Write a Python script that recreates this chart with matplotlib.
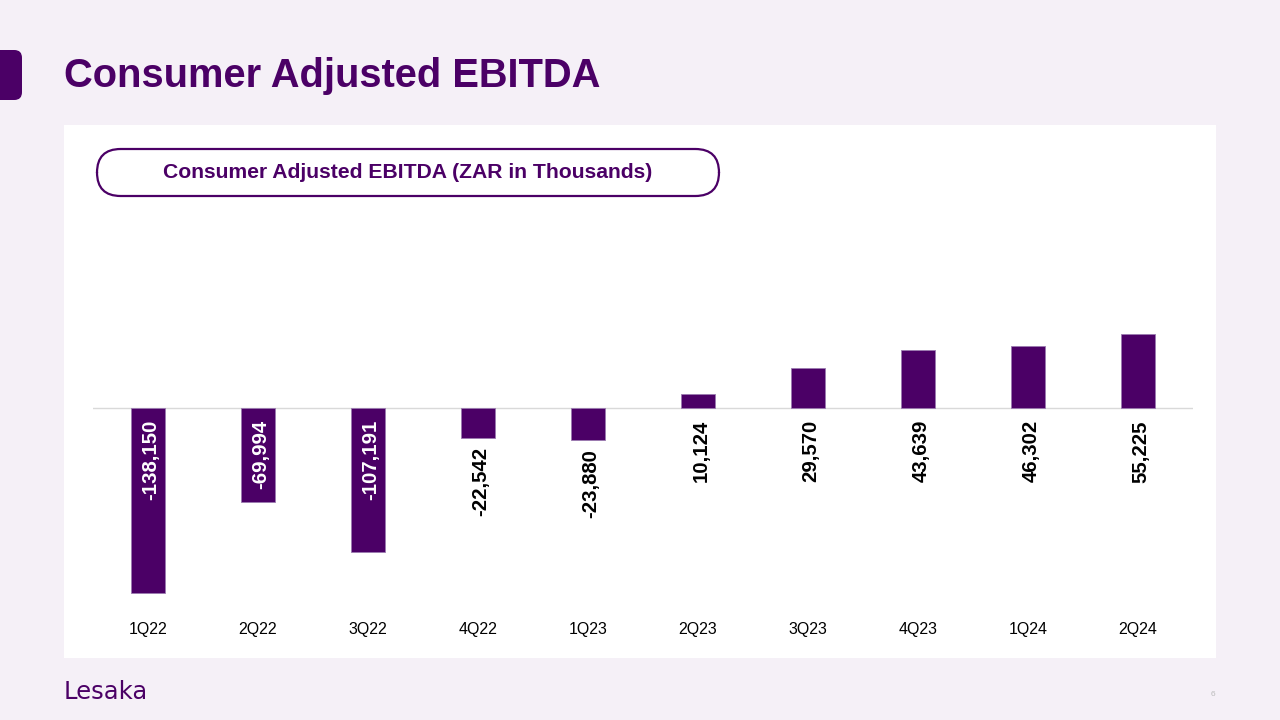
import matplotlib
matplotlib.use("Agg")
import matplotlib.pyplot as plt
from matplotlib.patches import FancyBboxPatch, Rectangle
import matplotlib.transforms as mtransforms

plt.rcParams['font.family'] = ['Liberation Sans', 'DejaVu Sans']

quarters = ["1Q22", "2Q22", "3Q22", "4Q22", "1Q23", "2Q23", "3Q23", "4Q23", "1Q24", "2Q24"]
ebitda = [-138150, -69994, -107191, -22542, -23880, 10124, 29570, 43639, 46302, 55225]
value_labels = ["-138,150", "-69,994", "-107,191", "-22,542", "-23,880",
                "10,124", "29,570", "43,639", "46,302", "55,225"]

PURPLE = "#4B0066"
BG = "#F5F0F7"

W, H = 1280, 720
fig = plt.figure(figsize=(12.8, 7.2), dpi=100)
fig.patch.set_facecolor(BG)

def fx(px):
    return px / W

def fy(py):
    return 1 - py / H

# white panel
fig.patches.append(Rectangle((fx(64), fy(658)), fx(1216) - fx(64), fy(125) - fy(658),
                             transform=fig.transFigure, facecolor="white", edgecolor="none", zorder=-2))
# left accent
fig.patches.append(FancyBboxPatch((fx(-10), fy(100)), fx(32), fy(50) - fy(100),
                                  boxstyle="round,pad=0,rounding_size=0.006",
                                  transform=fig.transFigure, facecolor=PURPLE, edgecolor="none",
                                  mutation_aspect=1.8, zorder=1))
# title
fig.text(fx(64), fy(76), "Consumer Adjusted EBITDA", fontsize=28.7, fontweight="bold",
         color=PURPLE, ha="left", va="center")

# subtitle pill
fig.patches.append(FancyBboxPatch((fx(97), fy(196)), fx(719) - fx(97), fy(149) - fy(196),
                                  boxstyle="round,pad=0,rounding_size=0.0185",
                                  transform=fig.transFigure, facecolor="white", edgecolor=PURPLE,
                                  linewidth=1.6, mutation_aspect=1.78, zorder=2))
fig.text(fx(408), fy(172), "Consumer Adjusted EBITDA (ZAR in Thousands)", fontsize=15.2,
         fontweight="bold", color=PURPLE, ha="center", va="center", zorder=3)

# footer
fig.text(fx(64), fy(692), "Lesaka", fontsize=17.5, color=PURPLE, family=["DejaVu Sans"],
         ha="left", va="center")
fig.text(fx(1213), fy(694), "6", fontsize=6, color="#BBBBBB", ha="center", va="center")

# axes
scale = 746.8  # value per pixel
ax_top, ax_bot, zero_px = 300, 600, 408
ax = fig.add_axes([fx(93), fy(ax_bot), fx(1193) - fx(93), fy(ax_top) - fy(ax_bot)])
ax.set_zorder(5)
ax.set_facecolor("none")
ax.set_xlim(-0.5, len(quarters) - 0.5)
ax.set_ylim(-(ax_bot - zero_px) * scale, (zero_px - ax_top) * scale)

x = list(range(len(quarters)))
ax.bar(x, ebitda, width=0.31, color=PURPLE, edgecolor="#9B7BB0", linewidth=0.6, zorder=2)
ax.axhline(0, color="#D9D9D9", linewidth=1.0, zorder=1)

for s in ax.spines.values():
    s.set_visible(False)
ax.set_yticks([])
ax.set_xticks(x)
ax.set_xticklabels(quarters, fontsize=11.5, color="black")
ax.tick_params(axis="x", length=0, pad=15.5)

for i, (v, lab) in enumerate(zip(ebitda, value_labels)):
    if v < -50000:
        off = mtransforms.offset_copy(ax.transData, fig=fig, x=3, y=-12, units="dots")
        ax.text(i, 0, lab, rotation=90, ha="center", va="top", color="white",
                fontsize=14.7, fontweight="bold", transform=off, zorder=3)
    elif v < 0:
        off = mtransforms.offset_copy(ax.transData, fig=fig, x=3, y=-9, units="dots")
        ax.text(i, v, lab, rotation=90, ha="center", va="top", color="black",
                fontsize=14.7, fontweight="bold", transform=off, zorder=3)
    else:
        off = mtransforms.offset_copy(ax.transData, fig=fig, x=3, y=-12, units="dots")
        ax.text(i, 0, lab, rotation=90, ha="center", va="top", color="black",
                fontsize=14.7, fontweight="bold", transform=off, zorder=3)

fig.savefig("out.png", dpi=100, facecolor=BG)
